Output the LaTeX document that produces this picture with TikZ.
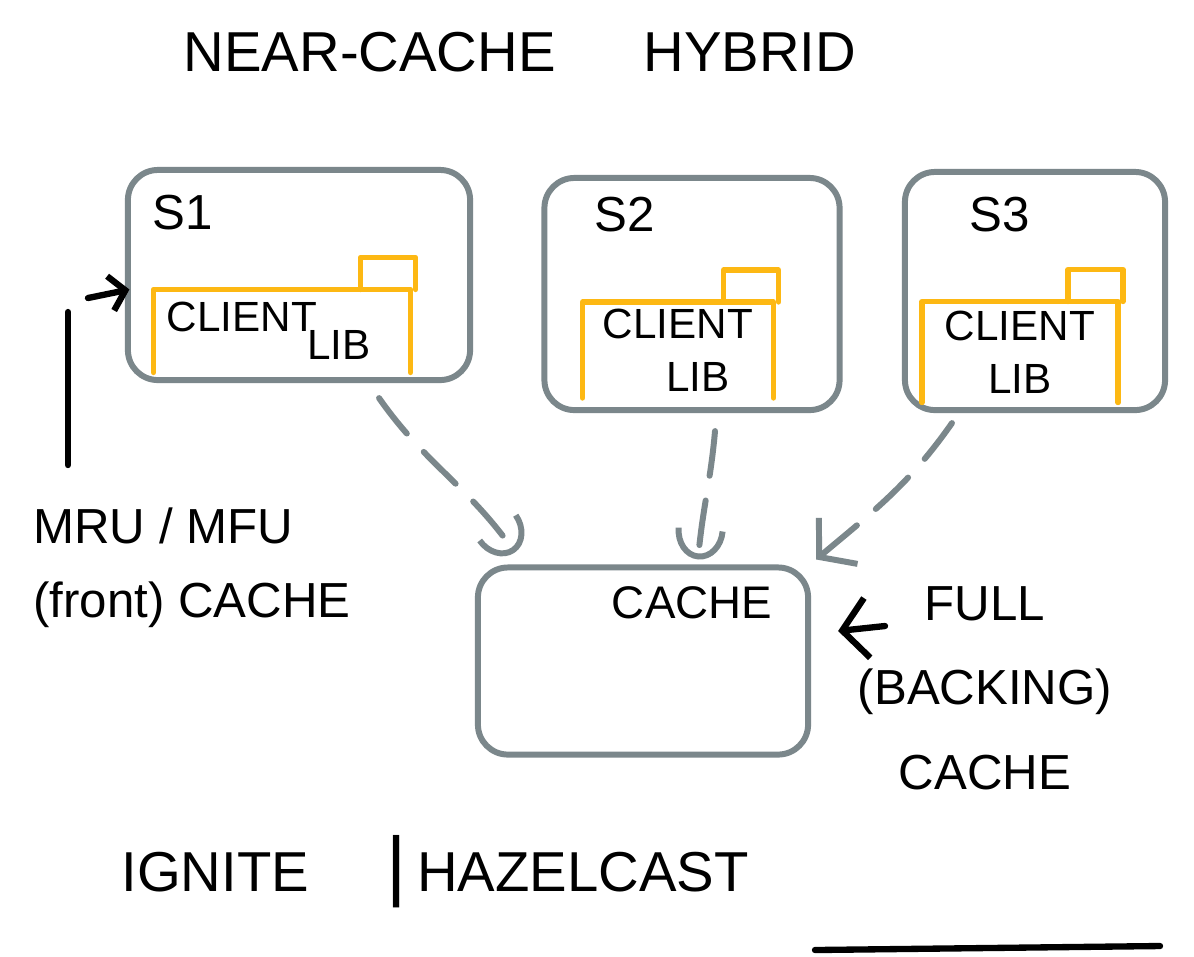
\documentclass[tikz,border=0pt]{standalone}
\usepackage{fontspec}
\setmainfont{Liberation Sans}
\usetikzlibrary{arrows.meta}
\definecolor{gris}{HTML}{7B878B}
\definecolor{amarillo}{HTML}{FDB813}

\begin{document}
\begin{tikzpicture}[x=0.01cm, y=-0.01cm, line width=1.7pt, line cap=round,
  caja/.style={draw=gris, rounded corners=0.3cm, line width=1.7pt},
  lib/.style={inner sep=0pt, font=\fontsize{12}{15}\selectfont},
  libline/.style={draw=amarillo, line width=1.5pt, line join=round},
  punteado/.style={draw=gris, line width=1.7pt, dash pattern=on 4.5mm off 2.5mm},
  negra/.style={draw=black, line width=1.8pt},
  titulo/.style={font=\fontsize{16}{19}\selectfont},
  nota/.style={font=\fontsize{14}{17}\selectfont}]
\path[use as bounding box, fill=white] (0,0) rectangle (1194,956);
% Nodos
\node[titulo] (tit) at (520,52) {NEAR-CACHE\hspace{25pt}HYBRID};
\node[caja, minimum width=3.42cm, minimum height=2.1cm] (s1) at (299,275) {};
\node[caja, minimum width=2.95cm, minimum height=2.32cm] (s2) at (692,294) {};
\node[caja, minimum width=2.6cm, minimum height=2.38cm] (s3) at (1035,291) {};
\node[caja, minimum width=3.3cm, minimum height=1.87cm] (cache) at (643,661) {};
\node[nota] (ls1) at (183,213) {S1};
\node[nota] (ls2) at (625,215) {S2};
\node[nota] (ls3) at (1000,215) {S3};
\node[font=\fontsize{13}{15}\selectfont] (lcache) at (692,603) {CACHE};
% ---
% client lib
% ---
\node[lib, minimum width=2.51cm, minimum height=0.77cm, text width=2.3cm, align=left] (cl1) at (282,331) {CLIENT\\[-7pt]\hspace*{1.4cm}LIB};
\node[lib, minimum width=1.85cm, minimum height=0.9cm, align=center] (cl2) at (678,350) {CLIENT\\\hspace*{0.4cm}LIB};
\node[lib, minimum width=1.9cm, minimum height=0.95cm, align=center] (cl3) at (1020,352) {CLIENT\\LIB};
\foreach \n in {cl1,cl2,cl3}
  \draw[libline] (\n.south west) |- (\n.north east) -- (\n.south east)
    ([xshift=-0.5cm]\n.north east) -- ++(0,-32) -| ([xshift=0.05cm]\n.north east);
% ---
% notas
% ---
\node[nota, align=left] (mru) at (192,568) {MRU / MFU\\[4pt](front) CACHE};
\node[nota, align=center] (full) at (985,688) {FULL\\[7pt](BACKING)\\[7pt]CACHE};
\node[titulo] (prod) at (435,872) {IGNITE\hspace{22pt}{\fontsize{22}{22}\selectfont|}\hspace{3pt}HAZELCAST};
\coordinate (m1) at (68,465);
\coordinate (m2) at (68,312);
\coordinate (m3) at (88,298);
\coordinate (f1) at (885,626);
\coordinate (r1) at (815,950);
\coordinate (r2) at (1160,946);
% Ejes
\draw[punteado, -{Arc Barb[length=3mm, width=5mm]}] ([xshift=0.8cm,yshift=-0.15cm]s1.south) to[out=-55, in=125] ([xshift=-1.28cm,yshift=0.12cm]cache.north);
\draw[punteado, -{Arc Barb[length=3mm, width=5mm]}] ([xshift=0.23cm,yshift=-0.18cm]s2.south) to[out=-95, in=85] ([xshift=0.55cm,yshift=0.05cm]cache.north);
\draw[punteado, -{Straight Barb[length=2.5mm, width=6mm]}] ([xshift=0.5cm,yshift=-0.1cm]s3.south west) to[out=-125, in=40] ([xshift=0.05cm,yshift=0.05cm]cache.north east);
\draw[negra] (m1) -- (m2);
\draw[negra, -{Straight Barb[length=1.5mm, width=3.5mm]}] (m3) -- ([xshift=-0.24cm]cl1.north west);
\draw[negra, -{Straight Barb[length=2.5mm, width=6mm]}] (f1) -- ([xshift=0.27cm,yshift=0.3cm]cache.east);
\draw[negra] (r1) -- (r2);
\end{tikzpicture}
\end{document}
